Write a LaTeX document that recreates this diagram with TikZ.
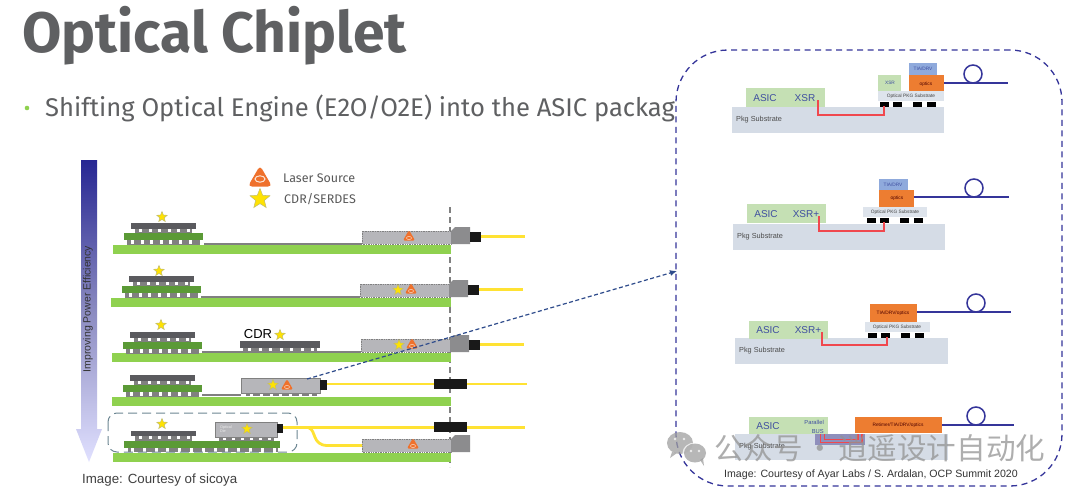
\documentclass[tikz,border=0pt]{standalone}
\usepackage{fontspec}
\setmainfont{Liberation Sans}
\newfontfamily\slidefont{Fira Sans}
\newfontfamily\cjkfont{Noto Sans CJK SC}
\usepackage{tikz}
\usetikzlibrary{shapes.geometric,arrows.meta}
\definecolor{basegreen}{HTML}{8FD14F}
\definecolor{intergreen}{HTML}{5B9A36}
\definecolor{diegrey}{HTML}{5A5A5E}
\definecolor{modgrey}{HTML}{B6B6BA}
\definecolor{plugrey}{HTML}{8C8C8E}
\definecolor{fibreyellow}{HTML}{FFE233}
\definecolor{linkblue}{HTML}{2F4C8C}
\definecolor{panelblue}{HTML}{35359A}
\definecolor{subgrey}{HTML}{D5DCE6}
\definecolor{optsub}{HTML}{DEE4EC}
\definecolor{asicgreen}{HTML}{C5E0B4}
\definecolor{optorange}{HTML}{ED7D31}
\definecolor{tiablue}{HTML}{8FAADC}
\definecolor{textblue}{HTML}{3F4FA0}
\definecolor{traced}{HTML}{F0484E}
\definecolor{slidegrey}{HTML}{5F6062}
\tikzset{
  box/.style={anchor=north west,inner sep=0pt,outer sep=0pt},
  laser/.style={regular polygon,regular polygon sides=3,inner sep=0pt,fill=optorange!90!red,rounded corners=1.5pt,minimum size=14},
  starmark/.style={star,star points=5,star point ratio=2.3,inner sep=0pt,fill=yellow!85!orange,draw=yellow!45!gray,line width=.5pt,minimum size=11},
  fibre/.style={fibreyellow,line width=2.8pt},
  plug/.style={box,fill=black!90},
  subst/.style={box,fill=subgrey},
  optpkg/.style={box,fill=optsub},
  asic/.style={box,fill=asicgreen},
  orangebox/.style={box,fill=optorange},
  tiabox/.style={box,fill=tiablue},
  trace/.style={traced,line width=1.1pt},
  fibreline/.style={panelblue,line width=1.5pt},
  bluetxt/.style={textblue,inner sep=0pt,font=\fontsize{10}{10}\selectfont},
  tiny/.style={inner sep=0pt,font=\fontsize{4.8}{5}\selectfont},
  pkgtxt/.style={anchor=west,inner sep=0pt,text=black!70,font=\fontsize{7.3}{7}\selectfont},
}
% die over interposer with both rows of bumps, #1 #2 = top left of the die
\newcommand{\chipstack}[2]{
  \fill[diegrey] (#1,#2) rectangle ++(65,6);
  \fill[gray] (#1+4,#2+6) rectangle ++(57,4);
  \foreach \k in {0,...,5} \fill[white] (#1+8+\k*9.6,#2+6) rectangle ++(3,3);
  \fill[intergreen] (#1-7,#2+10) rectangle ++(79,7);
  \fill[gray] (#1-4,#2+17) rectangle ++(73,5);
  \foreach \k in {0,...,6} \fill[white] (#1+\k*9.6,#2+17) rectangle ++(3,4);
}
% dotted module with its plug at the board edge, #1 #2 = top left of the module
\newcommand{\modplug}[2]{
  \fill[modgrey,draw=gray,densely dotted,line width=.7pt] (#1,#2) rectangle ++(89,13);
  \fill[plugrey] (#1+89,#2+13) -- ++(0,-13) -- ++(4,-4) -- ++(15,0) -- ++(0,17) -- cycle;
}
\begin{document}
\begin{tikzpicture}[x=1pt,y=-1pt]
\useasboundingbox (0,0) rectangle (1080,491);
\fill[white] (0,0) rectangle (1080,491);

\node[anchor=base west,inner sep=0pt,text=slidegrey,font=\slidefont\bfseries\fontsize{57}{57}\selectfont] (title) at (22,52) {Optical Chiplet};
\fill[basegreen] (27,108) circle (2.3);
\node[anchor=base west,inner sep=0pt,text=slidegrey,font=\slidefont\fontsize{25.6}{26}\selectfont] (bullet) at (45,116.5) {Shifting Optical Engine (E2O/O2E) into the ASIC packag};

% efficiency arrow
\path[top color=blue!50!black!85!white,bottom color=blue!12!white,middle color=blue!30!gray!70!white] (81,160) -- (97,160) -- (97,429) -- (102,429) -- (89,462) -- (76,429) -- (81,429) -- cycle;
\node[rotate=90,inner sep=0pt,text=black!80,font=\fontsize{10.5}{11}\selectfont] (effic) at (88,309) {Improving Power Efficiency};

% legend
\node[laser,minimum size=28,rounded corners=4pt] (lasersym) at (260,179.5) {};
\draw[white!80!optorange,line width=1pt] (260,179) ellipse (5 and 3.2);
\node[starmark,minimum size=21] (starsym) at (260,199) {};
\node[anchor=west,inner sep=0pt,text=black!65,font=\slidefont\fontsize{12.5}{12}\selectfont] (lasertxt) at (283,178) {Laser Source};
\node[anchor=west,inner sep=0pt,text=black!65,font=\slidefont\fontsize{12.5}{12}\selectfont] (cdrtxt) at (284,199) {CDR/SERDES};

% dashed board edge
\draw[gray,line width=1.1pt,dash pattern=on 6pt off 4pt] (450,207) -- (450,467);

% five package rows
\foreach \x/\y in {113/245,111/298,112/353,112/397,113/453} \fill[basegreen] (\x,\y) rectangle (451,\y+9);
\chipstack{131}{223}
\chipstack{129}{276}
\chipstack{130}{332}
\chipstack{130}{375}
\foreach \xa/\xb/\y in {204/362/243,201/360/296,202/361/351,202/241/394} \fill[gray] (\xa,\y) rectangle (\xb,\y+2);
\modplug{362}{231}
\modplug{360}{284}
\modplug{361}{339}
\modplug{362}{439}
\foreach \x/\y in {470/232,468/285,469/340} {
  \fill[fibreyellow] (\x+8,\y+3) rectangle ++(47,3.4);
  \fill[black!90] (\x,\y) rectangle ++(11,9.5);
}

% third row CDR die
\fill[diegrey] (240,341) rectangle (320,348);
\fill[gray] (243,348) rectangle (317,352);
\foreach \k in {0,...,6} \fill[white] (248+\k*10.5,348) rectangle ++(3,3);
\node[inner sep=0pt,font=\fontsize{13}{13}\selectfont] (cdr) at (258,334) {CDR};

% fourth row optical die on board
\fill[gray] (246,392) rectangle (317,396);
\foreach \k in {0,...,6} \fill[white] (250+\k*9.8,393) rectangle ++(3,3);
\fill[modgrey,draw=gray,line width=.6pt] (241,378) rectangle (320,393);
\node[box,fill=black!90,minimum width=7,minimum height=10] (pigfour) at (320,380) {};
\node[plug,minimum width=33,minimum height=10] (mpofour) at (434,379) {};
\coordinate (fibfour) at (527,384);
\draw[fibre] (pigfour.east |- fibfour) -- (mpofour.west |- fibfour);
\draw[fibre] (mpofour.east |- fibfour) -- (fibfour);

% fifth row co-packaged die on interposer
\fill[gray] (128,448) rectangle (278,452);
\foreach \k in {0,...,12} \fill[white] (131+\k*11.8,448) rectangle ++(3,4);
\fill[intergreen] (124,441) rectangle (280,448);
\fill[diegrey] (131,431) rectangle (196,436);
\fill[gray] (135,436) rectangle (192,441);
\foreach \k in {0,...,5} \fill[white] (139+\k*9.6,436) rectangle ++(3,3);
\fill[gray] (219,437) rectangle (274,441);
\foreach \k in {0,...,5} \fill[white] (223+\k*9,437) rectangle ++(3,3);
\fill[modgrey,draw=gray,line width=.6pt] (215,422) rectangle (277,437);
\node[align=left,inner sep=0pt,text=white!85!gray,font=\fontsize{3.8}{4.5}\selectfont] (optdie) at (226,429) {Optical\\Die};
\node[box,fill=black!90,minimum width=6,minimum height=9] (pigfive) at (277,424) {};
\node[plug,minimum width=33,minimum height=10] (mpofive) at (434,422) {};
\coordinate (fibfive) at (525,427.5);
\draw[fibre] (pigfive.east |- fibfive) -- (mpofive.west |- fibfive);
\draw[fibre] (mpofive.east |- fibfive) -- (fibfive);
\draw[fibre] (309,428) .. controls (316,430) and (312,445) .. (327,445.5) -- (362,445.5);
\draw[black!45!cyan!50!gray,line width=1pt,dash pattern=on 9pt off 5pt,rounded corners=9pt] (108,413) rectangle (297,452);

% stars and lasers of the rows
\foreach \x/\y in {162/217,159/271,161/325,280/335,398/290,399/345,273/385,162/424,247/429} \node[starmark] at (\x,\y) {};
\foreach \x/\y in {409/237,411/290,412/345,287/386,413/445} {
  \node[laser] at (\x,\y) {};
  \draw[white!70!optorange,line width=.5pt] (\x,\y+1) ellipse (2.5 and 1.6);
}

\node[anchor=west,inner sep=0pt,text=black!75,font=\fontsize{13.3}{13}\selectfont] (sicoya) at (82,480) {Image: Courtesy of sicoya};

% panel with the four co-packaging options
\node[box,fill=white,draw=panelblue,line width=1.3pt,dash pattern=on 6pt off 4.5pt,rounded corners=52pt,minimum width=386,minimum height=436] (panel) at (676,50) {};
\coordinate (linkstart) at (307,379);
\coordinate (linkend) at (677,271);
\draw[linkblue,line width=1.2pt,dash pattern=on 4pt off 2.5pt,-{Latex[length=7pt,width=6pt]}] (linkstart) -- (linkend);

% option 1, XSR chiplet beside the optics
\node[subst,minimum width=212,minimum height=26] (subA) at (732,107) {};
\node[asic,minimum width=79,minimum height=19] (asicA) at (746,88) {};
\node[optpkg,minimum width=66,minimum height=10] (optA) at (878,91) {};
\node[asic,minimum width=23,minimum height=16] (xsrA) at (878,75) {};
\node[orangebox,minimum width=35,minimum height=16] (opticsA) at (909,75) {};
\node[tiabox,minimum width=28,minimum height=12] (tiaA) at (909,63) {};
\node[pkgtxt] (pkgA) at (736,120) {Pkg Substrate};
\node[bluetxt] at (765,98) {ASIC};
\node[bluetxt] at (805,98) {XSR};
\node[tiny,text=textblue] at (890,83) {XSR};
\node[tiny,text=black!70!red] at (926,84) {optics};
\node[tiny,text=textblue] at (923,69) {TIA/DRV};
\node[tiny,text=black!75] at (911,96) {Optical PKG Substrate};
\foreach \x in {880,893,913,927} \fill[black] (\x,102) rectangle ++(8.5,4.5);
\coordinate (trA) at (818,100);
\coordinate (bmA) at (884,106);
\draw[trace] (trA) |- (884,115) -- (bmA);
\coordinate (fibA) at (1008,83);
\draw[fibreline] (opticsA.east |- fibA) -- (fibA);
\draw[fibreline] (973,74) circle (9);

% option 2, XSR+ with the optics on a long substrate
\node[subst,minimum width=212,minimum height=26] (subB) at (733,224) {};
\node[asic,minimum width=79,minimum height=19] (asicB) at (747,204) {};
\node[optpkg,minimum width=64,minimum height=10] (optB) at (863,207) {};
\node[orangebox,minimum width=35,minimum height=17] (opticsB) at (879,190) {};
\node[tiabox,minimum width=29,minimum height=11] (tiaB) at (879,179) {};
\node[pkgtxt] (pkgB) at (737,237) {Pkg Substrate};
\node[bluetxt] at (766,214) {ASIC};
\node[bluetxt] at (806,214) {XSR+};
\node[tiny,text=black!70!red] at (897,198) {optics};
\node[tiny,text=textblue] at (893,185) {TIA/DRV};
\node[tiny,text=black!75] at (895,212) {Optical PKG Substrate};
\foreach \x in {867,880,900,914} \fill[black] (\x,218) rectangle ++(8.5,4.5);
\coordinate (trB) at (819,216);
\coordinate (bmB) at (884,222);
\draw[trace] (trB) |- (884,231) -- (bmB);
\coordinate (fibB) at (1009,197);
\draw[fibreline] (opticsB.east |- fibB) -- (fibB);
\draw[fibreline] (974,188) circle (9);

% option 3, driver and optics merged
\node[subst,minimum width=213,minimum height=26] (subC) at (735,338) {};
\node[asic,minimum width=79,minimum height=18] (asicC) at (749,321) {};
\node[optpkg,minimum width=65,minimum height=10] (optC) at (865,322) {};
\node[orangebox,minimum width=47,minimum height=18] (opticsC) at (870,304) {};
\node[pkgtxt] (pkgC) at (739,351) {Pkg Substrate};
\node[bluetxt] at (768,330) {ASIC};
\node[bluetxt] at (808,330) {XSR+};
\node[tiny,text=black!70!red] at (893,313) {TIA/DRV/optics};
\node[tiny,text=black!75] at (897,327) {Optical PKG Substrate};
\foreach \x in {868,881,901,915} \fill[black] (\x,333) rectangle ++(8.5,4.5);
\coordinate (trC) at (822,332);
\coordinate (bmC) at (887,337);
\draw[trace] (trC) |- (887,345) -- (bmC);
\coordinate (fibC) at (1011,312);
\draw[fibreline] (opticsC.east |- fibC) -- (fibC);
\draw[fibreline] (976,303) circle (9);

% option 4, parallel bus to the retimer
\node[subst,minimum width=213,minimum height=26] (subD) at (735,434) {};
\node[asic,minimum width=79,minimum height=17] (asicD) at (749,417) {};
\node[orangebox,minimum width=87,minimum height=16] (opticsD) at (855,417) {};
\node[box,fill=blue!25!gray!70!white,minimum width=50,minimum height=11] (busD) at (815,434) {};
\node[pkgtxt] (pkgD) at (739,447) {Pkg Substrate};
\node[bluetxt] at (768,426) {ASIC};
\node[textblue,align=right,inner sep=0pt,font=\fontsize{5.8}{9}\selectfont,anchor=east] (parbus) at (824,427) {Parallel\\BUS};
\node[tiny,text=black!70!red] at (898,425) {Retimer/TIA/DRV/optics};
\draw[traced,line width=1.6pt] (820.5,434) |- (862,442.5) -- (862,434);
\draw[traced,line width=1.3pt] (824.5,434) |- (858,439.5) -- (858,434);
\coordinate (fibD) at (1014,425);
\draw[fibreline] (opticsD.east |- fibD) -- (fibD);
\draw[fibreline] (976,416) circle (9);

\node[anchor=west,inner sep=0pt,text=black!80,font=\fontsize{10.6}{11}\selectfont] (ayar) at (724,475) {Image: Courtesy of Ayar Labs / S. Ardalan, OCP Summit 2020};

% account mark
\begin{scope}[opacity=.75]
\fill[gray!75] (680,443) ellipse (13 and 11);
\fill[gray!75] (672,452) -- (670,458) -- (677,453) -- cycle;
\fill[white] (695,453) ellipse (12.5 and 10.5);
\fill[gray!75] (695,453) ellipse (11 and 9.5);
\fill[gray!75] (700,460) -- (704,466) -- (703,458) -- cycle;
\foreach \x/\y in {675/439,684/439,691/451,699/451} \fill[white] (\x,\y) circle (1.4);
\node[anchor=west,inner sep=0pt,text=gray!85,font=\cjkfont\fontsize{29.6}{30}\selectfont] (account) at (714,448) {公众号\kern2.8pt·\kern2.8pt逍遥设计自动化};
\end{scope}
\end{tikzpicture}
\end{document}
